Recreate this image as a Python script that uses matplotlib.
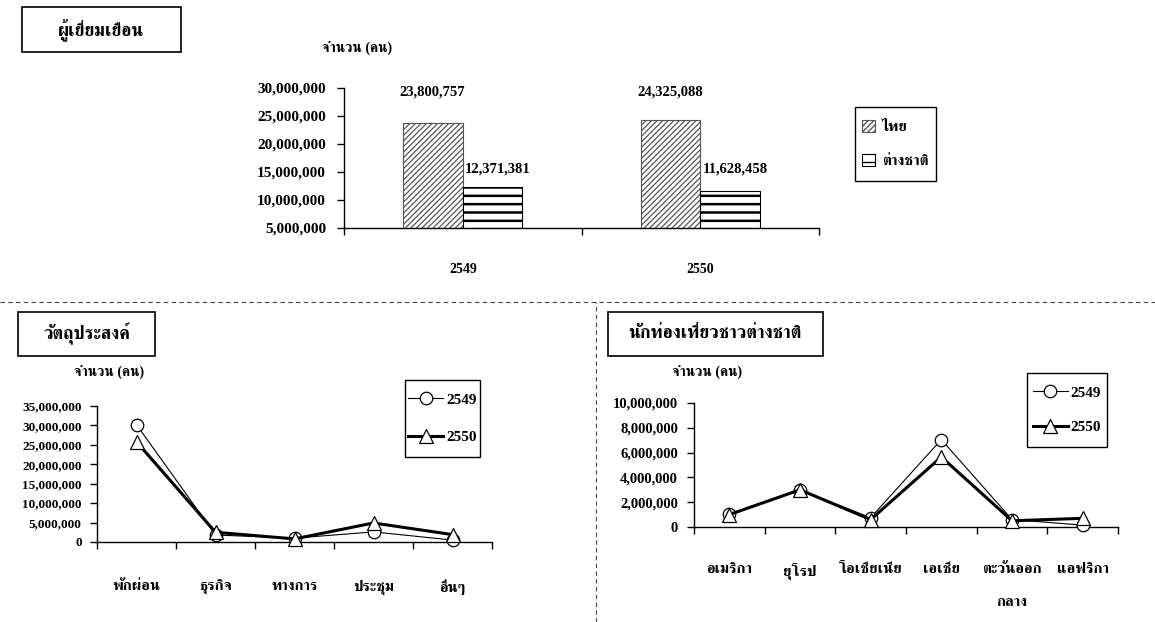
import numpy as np
import matplotlib
matplotlib.use("Agg")
import matplotlib.pyplot as plt                     # noqa: E402
from matplotlib import font_manager                 # noqa: E402
from matplotlib.lines import Line2D                 # noqa: E402
from matplotlib.patches import Rectangle            # noqa: E402
from matplotlib.ticker import FuncFormatter         # noqa: E402

# ---- data ----
years = ["2549", "2550"]
thai_visitors = [23800757, 24325088]
foreign_visitors = [12371381, 11628458]

purposes = ["พักผ่อน", "ธุรกิจ", "ทางการ", "ประชุม", "อื่นๆ"]
purpose_2549 = [30200000, 1800000, 1000000, 2600000, 500000]
purpose_2550 = [25800000, 2500000, 800000, 4900000, 1900000]

regions = ["อเมริกา", "ยุโรป", "โอเชียเนีย", "เอเชีย", "ตะวันออก\nกลาง", "แอฟริกา"]
region_2549 = [1050000, 3000000, 750000, 7050000, 600000, 150000]
region_2550 = [1000000, 3000000, 600000, 5650000, 500000, 700000]


# ---- something that can draw Thai; latin digits stay Times-like ----
def thai_families():
    found = []
    for f in font_manager.fontManager.ttflist:
        if f.name in found:
            continue
        try:
            cmap = font_manager.get_font(f.fname).get_charmap()
        except Exception:
            continue
        if 0x0E01 in cmap:
            found.append(f.name)
    # FreeSerif is the closest to the Angsana look of the original
    found.sort(key=lambda n: (n != "FreeSerif", n))
    return found


THAI = thai_families()
plt.rcParams["font.family"] = ["Liberation Serif"] + THAI + ["DejaVu Sans"]
plt.rcParams["font.weight"] = "bold"
plt.rcParams["axes.linewidth"] = 1.0

W, H = 1155, 622


def rect(x0, y0, x1, y1):
    """pixel box (y down) -> figure fraction rect"""
    return [x0 / W, 1 - y1 / H, (x1 - x0) / W, (y1 - y0) / H]


fig = plt.figure(figsize=(W / 100, H / 100), dpi=100, facecolor="white")


def frame(x0, y0, x1, y1, lw=1.2):
    fig.add_artist(Rectangle((x0 / W, 1 - y1 / H), (x1 - x0) / W, (y1 - y0) / H,
                             transform=fig.transFigure, fill=False,
                             ec="black", lw=lw))


def title_box(x0, y0, x1, y1, text, size=13):
    frame(x0, y0, x1, y1)
    fig.text((x0 + x1) / 2 / W, 1 - (y0 + y1) / 2 / H, text,
             ha="center", va="center", fontsize=size)


def boxed_legend(handles, labels, box, **kw):
    # the legend's own frame can't do uneven padding, so draw the box ourselves
    x0, y0, x1, y1 = box
    frame(x0, y0, x1, y1, lw=1.0)
    fig.legend(handles, labels, loc="center",
               bbox_to_anchor=((x0 + x1) / 2 / W, 1 - (y0 + y1) / 2 / H),
               bbox_transform=fig.transFigure, frameon=False,
               borderpad=0, borderaxespad=0, **kw)


comma = FuncFormatter(lambda v, p: "{:,.0f}".format(v))


def style_axes(ax, ncat, label_pad, ypad):
    for s in ("top", "right"):
        ax.spines[s].set_visible(False)
    ax.set_xlim(-0.5, ncat - 0.5)
    ax.set_xticks(np.arange(ncat))
    ax.set_xticks(np.arange(ncat + 1) - 0.5, minor=True)
    ax.tick_params(axis="x", which="major", length=0, pad=label_pad)
    ax.tick_params(axis="x", which="minor", length=5, width=1, direction="out")
    ax.tick_params(axis="y", length=5, width=1, direction="out", pad=ypad)
    ax.yaxis.set_major_formatter(comma)


# ---------------- top: visitors bar chart ----------------
title_box(22, 7, 181, 52, "ผู้เยี่ยมเยือน", 13)
fig.text(357 / W, 1 - 48 / H, "จำนวน (คน)", ha="center", va="center", fontsize=10)

ax = fig.add_axes(rect(344, 88, 819, 228))
xi = np.arange(len(years))
bw = 0.25
with plt.rc_context({"hatch.linewidth": 0.9}):
    b1 = ax.bar(xi - bw / 2, thai_visitors, bw, color="white", edgecolor="#555555",
                hatch="//////", lw=0.8)
with plt.rc_context({"hatch.linewidth": 1.8}):
    b2 = ax.bar(xi + bw / 2, foreign_visitors, bw, color="white", edgecolor="black",
                hatch="--", lw=0.8)
ax.set_ylim(5000000, 30000000)
ax.set_yticks(np.arange(5000000, 30000001, 5000000))
style_axes(ax, len(years), 25, 8)
ax.set_xticklabels(years, fontsize=10)
ax.tick_params(axis="y", labelsize=11)
for i in range(len(years)):
    ax.text(i - 0.127, 29300000, "{:,}".format(thai_visitors[i]),
            ha="center", va="center", fontsize=10.5)
    ax.text(i + 0.146, 15600000, "{:,}".format(foreign_visitors[i]),
            ha="center", va="center", fontsize=10.5)
boxed_legend([b1, b2], ["ไทย", "ต่างชาติ"], (855, 107, 936, 181),
             handlelength=0.85, handleheight=0.85, handletextpad=0.45,
             labelspacing=1.25, fontsize=11)

# ---------------- dashed separators ----------------
fig.add_artist(Line2D([0, 1], [1 - 302 / H, 1 - 302 / H], transform=fig.transFigure,
                      color="#444444", lw=0.8, ls=(0, (4, 3))))
fig.add_artist(Line2D([596 / W, 596 / W], [0, 1 - 302 / H], transform=fig.transFigure,
                      color="#444444", lw=0.8, ls=(0, (4, 3))))


def line_chart(box, cats, v49, v50, ymax, step, leg_box, tick_size, label_pad,
               ypad, leg_spacing):
    ax = fig.add_axes(rect(*box))
    x = np.arange(len(cats))
    l1, = ax.plot(x, v49, color="black", lw=0.8, marker="o", ms=9, mfc="white",
                  mec="black", mew=0.9, clip_on=False, zorder=3)
    l2, = ax.plot(x, v50, color="black", lw=2.2, marker="^", ms=10, mfc="white",
                  mec="black", mew=0.9, clip_on=False, zorder=4)
    ax.set_ylim(0, ymax)
    ax.set_yticks(np.arange(0, ymax + 1, step))
    style_axes(ax, len(cats), label_pad, ypad)
    ax.set_xticklabels(cats, fontsize=11, linespacing=3.0, va="top")
    ax.tick_params(axis="y", labelsize=tick_size)
    boxed_legend([l1, l2], ["2549", "2550"], leg_box,
                 handlelength=2.3, handletextpad=0.2, labelspacing=leg_spacing,
                 fontsize=11)
    return ax


# ---------------- bottom left: purpose ----------------
title_box(18, 312, 155, 356, "วัตถุประสงค์", 13)
fig.text(109 / W, 1 - 372 / H, "จำนวน (คน)", ha="center", va="center", fontsize=10)
line_chart((97, 406, 492, 542), purposes, purpose_2549, purpose_2550,
           35000000, 5000000, (405, 380, 480, 457), 9.5, 27, 6, 1.55)

# ---------------- bottom right: foreign visitors by region ----------------
title_box(608, 312, 823, 356, "นักท่องเที่ยวชาวต่างชาติ", 13)
fig.text(707 / W, 1 - 372 / H, "จำนวน (คน)", ha="center", va="center", fontsize=10)
line_chart((694, 403, 1118, 527), regions, region_2549, region_2550,
           10000000, 2000000, (1027, 373, 1107, 447), 10.5, 26, 6.5, 1.35)

fig.savefig("out.png", dpi=100, facecolor="white")
